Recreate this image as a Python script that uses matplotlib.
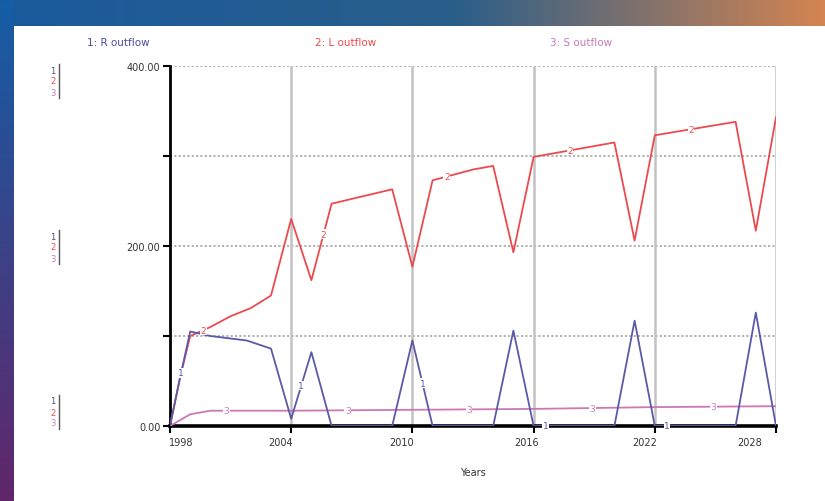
import numpy as np
import matplotlib
matplotlib.use("Agg")
import matplotlib.pyplot as plt
import matplotlib.transforms as mtransforms

# Stock flows (Stella-style run output)
years_r = [1998, 1998.5, 1999, 2000, 2001.8, 2003, 2004, 2005, 2006, 2009, 2010, 2011,
           2014, 2015, 2016, 2020, 2021, 2022, 2026, 2027, 2028]
r_outflow = [0, 54, 105, 100, 95, 86, 8, 82, 0, 0, 95, 0,
             0, 106, 0, 0, 117, 0, 0, 126, 0]

years_l = [1998, 1998.5, 1999, 2000, 2001, 2002, 2003, 2004, 2005, 2006, 2009, 2010,
           2011, 2013, 2014, 2015, 2016, 2020, 2021, 2022, 2026, 2027, 2028]
l_outflow = [0, 54, 100, 110, 122, 131, 145, 230, 162, 247, 263, 177,
             273, 285, 289, 193, 299, 315, 206, 323, 338, 217, 343]

years_s = [1998, 1999, 2000, 2004, 2010, 2016, 2022, 2028]
s_outflow = [0, 13, 17, 17, 18, 19, 21, 22]

x_ticks = [1998, 2004, 2010, 2016, 2022, 2028]
y_ticks = [0, 100, 200, 300, 400]
y_labels = ["0.00", "", "200.00", "", "400.00"]

BLUE = "#5a5aa6"
RED = "#ec4a4e"
PINK = "#cc78b8"
FONT = ["Liberation Sans Narrow", "DejaVu Sans"]
plt.rcParams["font.family"] = FONT

W, H = 825, 502
fig = plt.figure(figsize=(W / 100, H / 100), dpi=100)

# slide background: gradient bands at the top and left edge
bg = np.ones((H, W, 3))
top_l = np.array([0x1a, 0x5a, 0x9c]) / 255
top_m = np.array([0x2a, 0x5e, 0x8a]) / 255
top_r = np.array([0xd4, 0x84, 0x50]) / 255
t = np.linspace(0, 1, W)[:, None]
row = np.where(t < 0.55, top_l + (top_m - top_l) * (t / 0.55),
               top_m + (top_r - top_m) * ((t - 0.55) / 0.45))
bg[:27, :, :] = row[None, :, :]
left_t = np.array([0x14, 0x5e, 0xa6]) / 255
left_b = np.array([0x62, 0x26, 0x6a]) / 255
s = np.linspace(0, 1, H)[:, None]
bg[:, :14, :] = (left_t + (left_b - left_t) * s)[:, None, :]
bga = fig.add_axes([0, 0, 1, 1], zorder=-5)
bga.imshow(bg, aspect="auto", interpolation="bilinear")
bga.axis("off")

x0, x1, y0, y1 = 170, 776, 427, 67
ax = fig.add_axes([x0 / W, 1 - y0 / H, (x1 - x0) / W, (y0 - y1) / H])
ax.set_facecolor("white")
ax.set_xlim(1998, 2028)
ax.set_ylim(0, 400)

# grid
for v in y_ticks[1:]:
    ax.axhline(v, color="#ababab", lw=1.3, ls=(0, (1.2, 1.2)), zorder=1)
for x in x_ticks[1:]:
    ax.axvline(x, color="#c2c2c2", lw=1.8, zorder=1)

ax.plot(years_s, s_outflow, color=PINK, lw=1.3, zorder=3)
ax.plot(years_l, l_outflow, color=RED, lw=1.3, zorder=4)
ax.plot(years_r, r_outflow, color=BLUE, lw=1.3, zorder=5)

# series number tags along each curve
def tag(xs, ys, pos, label, color):
    for p in pos:
        ax.text(p, np.interp(p, xs, ys), label, color=color, fontsize=6.5,
                ha="center", va="center", zorder=6,
                bbox=dict(boxstyle="square,pad=0.05", fc="white", ec="none"))

tag(years_r, r_outflow, [1998.55, 2004.5, 2010.5, 2016.6, 2022.6], "1", BLUE)
tag(years_l, l_outflow, [1999.65, 2005.6, 2011.7, 2017.8, 2023.8], "2", RED)
tag(years_s, s_outflow, [2000.8, 2006.8, 2012.8, 2018.9, 2024.9], "3", PINK)

for side in ["top", "right"]:
    ax.spines[side].set_visible(False)
ax.spines["left"].set_linewidth(2)
ax.spines["bottom"].set_linewidth(2.6)
ax.spines["bottom"].set_zorder(2)

ax.set_yticks(y_ticks)
ax.set_yticklabels(y_labels, fontsize=7, color="#333333")
ax.tick_params(axis="y", direction="out", length=5, width=1.5, pad=2)
ax.set_xticks(x_ticks)
ax.set_xticklabels([str(x) for x in x_ticks], fontsize=7, color="#333333")
ax.tick_params(axis="x", direction="out", length=5, width=1.5, pad=3)

# year labels sit a little off their ticks
shifts = [11, -11, -11, -7, -10, -26]
for lab, dx in zip(ax.get_xticklabels(), shifts):
    lab.set_transform(lab.get_transform() +
                      mtransforms.ScaledTranslation(dx / 100, 0, fig.dpi_scale_trans))

fig.text(473 / W, 1 - 473 / H, "Years", fontsize=7, color="#333333",
         ha="center", va="center")

# legend names across the top
fig.text(118 / W, 1 - 43 / H, "1: R outflow", color="#4a4c9c", fontsize=7.5,
         ha="center", va="center")
fig.text(346 / W, 1 - 43 / H, "2: L outflow", color=RED, fontsize=7.5,
         ha="center", va="center")
fig.text(581 / W, 1 - 43 / H, "3: S outflow", color=PINK, fontsize=7.5,
         ha="center", va="center")

# scale markers for the three series beside the y axis
for yc in [82, 248, 413]:
    for i, (lab, col) in enumerate(zip("123", ["#4a4c7c", RED, PINK])):
        fig.text(53 / W, 1 - (yc - 11 + i * 11) / H, lab, color=col,
                 fontsize=6, ha="center", va="center")
    fig.add_artist(plt.Line2D([59 / W, 59 / W],
                              [1 - (yc - 17) / H, 1 - (yc + 17) / H],
                              color="#555555", lw=1, transform=fig.transFigure))

fig.savefig("out.png", dpi=100)
